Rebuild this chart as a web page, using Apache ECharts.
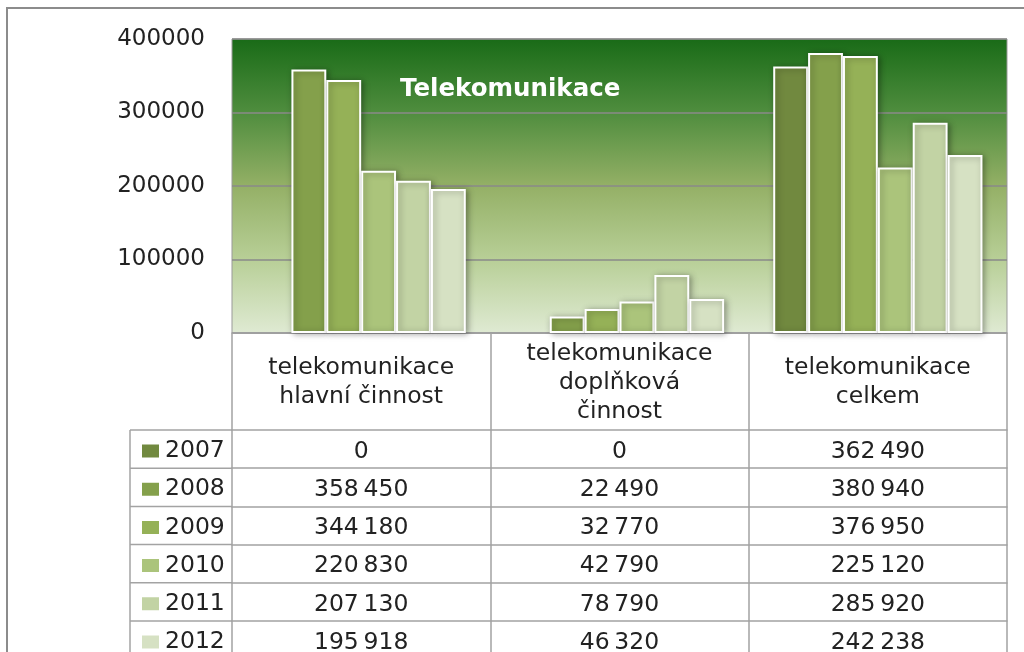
<!DOCTYPE html>
<html>
<head>
<meta charset="utf-8">
<script src="https://cdn.jsdelivr.net/npm/echarts@6/dist/echarts.min.js"></script>
<style>
html,body{margin:0;padding:0;background:#fff;}
#c{width:1024px;height:652px;}
</style>
</head>
<body>
<div id="c"></div>
<script>
var categories = ['telekomunikace\nhlavní činnost', 'telekomunikace\ndoplňková\nčinnost', 'telekomunikace\ncelkem'];
var years = ['2007', '2008', '2009', '2010', '2011', '2012'];
var hlavni = [0, 358450, 344180, 220830, 207130, 195918];
var doplnkova = [0, 22490, 32770, 42790, 78790, 46320];
var celkem = [362490, 380940, 376950, 225120, 285920, 242238];
var yTicks = [0, 100000, 200000, 300000, 400000];
var colors = ['#71893f', '#84a04b', '#95b157', '#abc47b', '#c2d3a4', '#d6e1c3'];

var FONT = 'DejaVu Sans';
var LINE = '#a3a3a3';
var ROW0 = 97, ROWH = 38.2;

function fmt(v) {
  return String(v).replace(/\B(?=(\d{3})+(?!\d))/g, '\u2009');
}

var chart = echarts.init(document.getElementById('c'), null, {renderer: 'canvas'});

var series = years.map(function (y, i) {
  return {
    name: y,
    type: 'bar',
    data: [hlavni[i], doplnkova[i], celkem[i]].map(function (v) {
      return v === 0 ? {value: v, itemStyle: {borderWidth: 0, shadowBlur: 0, shadowOffsetX: 0, shadowOffsetY: 0}} : v;
    }),
    barGap: '0%',
    barCategoryGap: '19%',
    itemStyle: {
      color: colors[i],
      borderColor: '#ffffff',
      borderWidth: 2,
      shadowColor: 'rgba(0,0,0,0.35)',
      shadowBlur: 6,
      shadowOffsetX: 2,
      shadowOffsetY: 1
    },
    emphasis: {disabled: true}
  };
});

var xAxes = [{
  type: 'category',
  data: categories,
  position: 'bottom',
  axisLine: {show: true, lineStyle: {color: LINE, width: 1.5}},
  axisTick: {show: true, length: ROW0, interval: 0, lineStyle: {color: LINE, width: 1.5}},
  axisLabel: {
    interval: 0, margin: ROW0 / 2 + 1, verticalAlign: 'middle',
    fontFamily: FONT, fontSize: 23.5, lineHeight: 29, color: '#222'
  }
}];
years.forEach(function (y, i) {
  xAxes.push({
    type: 'category',
    data: [fmt(hlavni[i]), fmt(doplnkova[i]), fmt(celkem[i])],
    position: 'bottom',
    offset: ROW0 + ROWH * i,
    axisLine: {show: true, lineStyle: {color: LINE, width: 1.5}},
    axisTick: {show: true, length: ROWH, interval: 0, lineStyle: {color: LINE, width: 1.5}},
    axisLabel: {
      interval: 0, margin: ROWH / 2 + 2.5, verticalAlign: 'middle',
      fontFamily: FONT, fontSize: 23.5, color: '#222'
    }
  });
});

var legends = years.map(function (y, i) {
  return {
    orient: 'vertical',
    left: 140, top: 333 + ROW0 + ROWH * i + 9,
    itemWidth: 19, itemHeight: 15,
    icon: 'rect',
    selectedMode: false,
    padding: 0,
    textStyle: {fontFamily: FONT, fontSize: 23.5, color: '#222', padding: [2, 0, 0, 0]},
    data: [y]
  };
});

var graphics = [{
  type: 'rect', silent: true, z: -1,
  shape: {x: 7, y: 8, width: 1100, height: 700},
  style: {fill: null, stroke: '#8c8c8c', lineWidth: 2}
}];
for (var r = 0; r <= years.length; r++) {
  var yy = 333 + ROW0 + ROWH * r;
  graphics.push({
    type: 'line', silent: true,
    shape: {x1: 130, y1: yy, x2: 232, y2: yy},
    style: {stroke: LINE, lineWidth: 1.5}
  });
}
graphics.push({
  type: 'line', silent: true,
  shape: {x1: 130, y1: 333 + ROW0, x2: 130, y2: 700},
  style: {stroke: LINE, lineWidth: 1.5}
});

chart.setOption({
  animation: false,
  title: {
    text: 'Telekomunikace',
    left: 395, top: 72,
    textStyle: {color: '#ffffff', fontFamily: FONT, fontWeight: 'bold', fontSize: 24.5}
  },
  legend: legends,
  grid: {
    left: 232, top: 39, width: 775, height: 294,
    outerBoundsMode: 'none',
    containLabel: false,
    show: true,
    backgroundColor: {
      type: 'linear', x: 0, y: 0, x2: 0, y2: 1,
      colorStops: [
        {offset: 0, color: '#196b17'},
        {offset: 0.25, color: '#4f8d3e'},
        {offset: 0.5, color: '#94b066'},
        {offset: 0.75, color: '#b8cf97'},
        {offset: 1, color: '#dfead3'}
      ]
    },
    borderColor: '#999999',
    borderWidth: 1
  },
  xAxis: xAxes,
  yAxis: {
    type: 'value',
    min: yTicks[0], max: yTicks[yTicks.length - 1], interval: yTicks[1] - yTicks[0],
    axisLine: {show: false},
    axisTick: {show: false},
    axisLabel: {
      margin: 27, fontFamily: FONT, fontSize: 23, color: '#222',
      formatter: function (v) { return String(v); }
    },
    splitLine: {show: true, lineStyle: {color: '#8a8a8a', width: 1.5}}
  },
  graphic: graphics,
  series: series
});
</script>
</body>
</html>
